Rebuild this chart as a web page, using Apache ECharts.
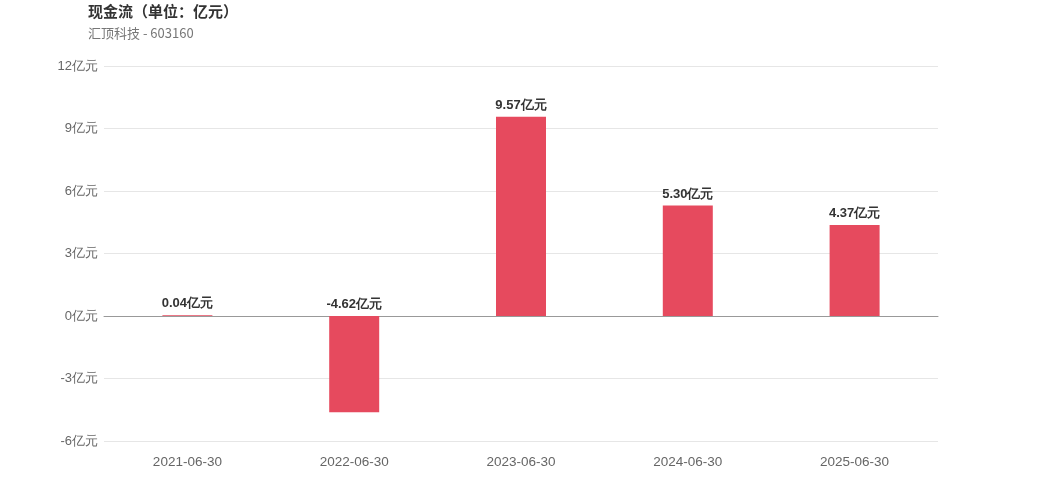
<!DOCTYPE html>
<html>
<head>
<meta charset="utf-8">
<script src="https://cdn.jsdelivr.net/npm/echarts@6/dist/echarts.min.js"></script>
<style>
html,body{margin:0;padding:0;background:#fff;}
#chart{width:1042px;height:500px;}
</style>
</head>
<body>
<div id="chart"></div>
<script>
// 报告期
var dates = ['2021-06-30', '2022-06-30', '2023-06-30', '2024-06-30', '2025-06-30'];
// 现金流（亿元）
var cashFlow = [0.04, -4.62, 9.57, 5.30, 4.37];
// 纵轴刻度
var yMin = -6, yMax = 12, yStep = 3;

var myChart = echarts.init(document.getElementById('chart'));
var option = {
	backgroundColor: '#fff',
	title: {
		text: '现金流（单位：亿元）',
		subtext: '汇顶科技 - 603160',
		left: 83,
		top: -1,
		itemGap: 8,
		textStyle: {fontSize: 15, fontWeight: 'bold', color: '#333', fontFamily: 'Noto Sans CJK SC'},
		subtextStyle: {fontSize: 13, color: '#777', fontFamily: 'Noto Sans CJK SC'}
	},
	grid: {left: 104, right: 104, top: 66, bottom: 59, containLabel: false},
	xAxis: {
		type: 'category',
		data: dates,
		axisLine: {onZero: true, lineStyle: {color: '#999'}},
		axisTick: {show: false},
		axisLabel: {color: '#666', fontSize: 13.5, margin: 14, fontFamily: 'Liberation Sans'}
	},
	yAxis: {
		type: 'value',
		min: yMin,
		max: yMax,
		interval: yStep,
		axisLine: {show: false},
		axisTick: {show: false},
		splitLine: {lineStyle: {color: '#e6e6e6'}},
		axisLabel: {
			color: '#666', fontSize: 13, margin: 6, fontFamily: 'Liberation Sans',
			formatter: function (v) { return v + '亿元'; }
		}
	},
	series: [{
		type: 'bar',
		data: cashFlow,
		barWidth: 50,
		itemStyle: {color: '#e64a5e'},
		label: {
			show: true,
			position: 'top',
			color: '#333',
			fontSize: 13,
			fontWeight: 'bold',
			fontFamily: 'Liberation Sans',
			formatter: function (p) { return p.value.toFixed(2) + '亿元'; }
		}
	}]
};
myChart.setOption(option);
</script>
</body>
</html>
